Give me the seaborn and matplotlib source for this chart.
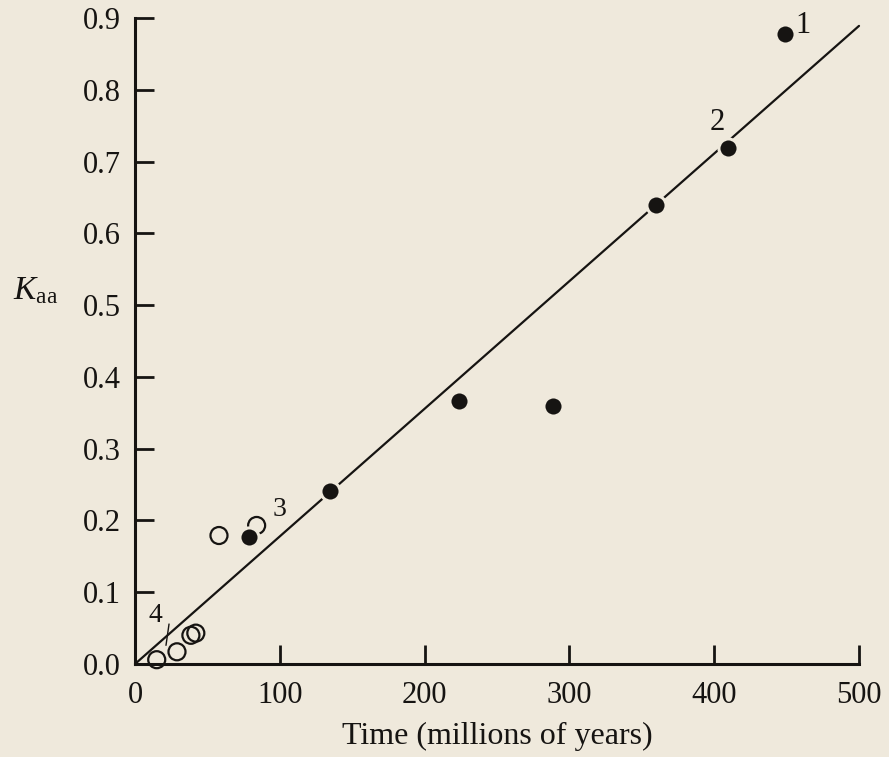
import matplotlib
matplotlib.use("Agg")
import matplotlib.pyplot as plt
import seaborn as sns
import pandas as pd

# ---- data ----
filled_time = [79, 134.7, 224, 289, 360, 409.5, 449]
filled_kaa = [0.177, 0.241, 0.366, 0.359, 0.640, 0.719, 0.878]

open_time = [15, 29, 38.6, 42, 58, 84]
open_kaa = [0.006, 0.017, 0.040, 0.043, 0.179, 0.193]

fit_time = [0, 500]
fit_kaa = [0.0, 0.889]

point_labels = ["1", "2", "3", "4"]
label_time = [461, 402, 100, 13.8]
label_kaa = [0.890, 0.755, 0.2146, 0.068]

x_ticks = [0, 100, 200, 300, 400, 500]
y_ticks = [0.0, 0.1, 0.2, 0.3, 0.4, 0.5, 0.6, 0.7, 0.8, 0.9]

BG = "#efe9dc"
INK = "#161412"

sns.set_theme(style="ticks")
plt.rcParams["font.family"] = ["Liberation Serif", "DejaVu Serif"]
plt.rcParams["mathtext.fontset"] = "custom"
plt.rcParams["mathtext.rm"] = "Liberation Serif"
plt.rcParams["mathtext.it"] = "Liberation Serif:italic"

fig = plt.figure(figsize=(8.89, 7.57), dpi=100, facecolor=BG)
ax = fig.add_axes([135 / 889, 1 - 664 / 757, 724 / 889, 646 / 757])
ax.set_facecolor(BG)

df_fit = pd.DataFrame({"t": fit_time, "k": fit_kaa})
df_filled = pd.DataFrame({"t": filled_time, "k": filled_kaa})
df_open = pd.DataFrame({"t": open_time, "k": open_kaa})

sns.lineplot(data=df_fit, x="t", y="k", ax=ax, color=INK, linewidth=1.6,
             zorder=2, clip_on=False)
sns.scatterplot(data=df_open, x="t", y="k", ax=ax, marker="o", s=150,
                facecolor="none", edgecolor=INK, linewidth=1.6,
                zorder=3, clip_on=False)
sns.scatterplot(data=df_filled, x="t", y="k", ax=ax, marker="o", s=190,
                color=INK, edgecolor=BG, linewidth=2.2,
                zorder=4, clip_on=False)

sizes = [22, 22, 20, 20]
for lab, tx, ky, fs in zip(point_labels, label_time, label_kaa, sizes):
    ax.text(tx, ky, lab, fontsize=fs, color=INK, ha="center", va="center")

# small leader from label 4
ax.plot([23.5, 21.4], [0.0557, 0.026], color=INK, linewidth=1.0)

ax.set_xlim(0, 500)
ax.set_ylim(0, 0.9)
ax.set_xticks(x_ticks)
ax.set_xticklabels([str(v) for v in x_ticks])
ax.set_yticks(y_ticks)
ax.set_yticklabels([f"{v:.1f}" for v in y_ticks])
ax.tick_params(direction="in", length=14, width=2, colors=INK,
               labelsize=22, pad=10)
ax.tick_params(axis="x", pad=12)

for side in ["top", "right"]:
    ax.spines[side].set_visible(False)
for side in ["left", "bottom"]:
    ax.spines[side].set_linewidth(2.2)
    ax.spines[side].set_color(INK)

ax.set_xlabel("Time (millions of years)", fontsize=23, color=INK, labelpad=9)
ax.set_ylabel(r"$K_{\rm aa}$", fontsize=24, color=INK, rotation=0,
              ha="center", va="center")
ax.yaxis.set_label_coords(-0.138, 0.577)

fig.savefig("out.png", dpi=100, facecolor=BG)
